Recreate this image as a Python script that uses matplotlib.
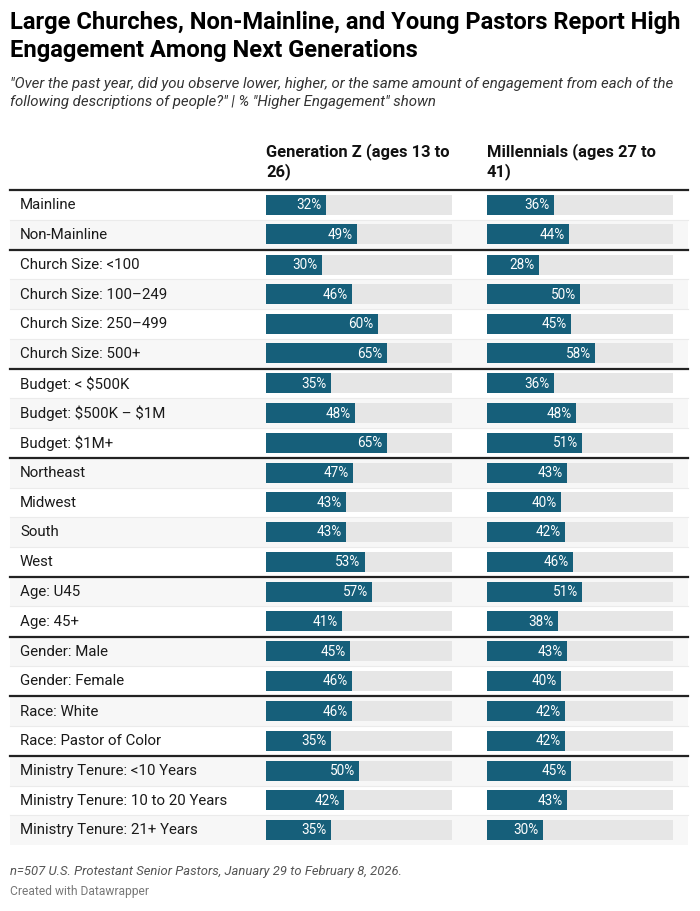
import matplotlib
matplotlib.use("Agg")
import matplotlib.pyplot as plt

# ---------------- data ----------------
categories = [
    "Mainline", "Non-Mainline",
    "Church Size: <100", "Church Size: 100–249", "Church Size: 250–499", "Church Size: 500+",
    "Budget: < $500K", "Budget: $500K – $1M", "Budget: $1M+",
    "Northeast", "Midwest", "South", "West",
    "Age: U45", "Age: 45+",
    "Gender: Male", "Gender: Female",
    "Race: White", "Race: Pastor of Color",
    "Ministry Tenure: <10 Years", "Ministry Tenure: 10 to 20 Years", "Ministry Tenure: 21+ Years",
]
group_sizes = [2, 4, 3, 4, 2, 2, 2, 3]
gen_z = [32, 49, 30, 46, 60, 65, 35, 48, 65, 47, 43, 43, 53, 57, 41, 45, 46, 46, 35, 50, 42, 35]
millennials = [36, 44, 28, 50, 45, 58, 36, 48, 51, 43, 40, 42, 46, 51, 38, 43, 40, 42, 42, 45, 43, 30]
column_headers = ["Generation Z (ages 13 to\n26)", "Millennials (ages 27 to\n41)"]

title = "Large Churches, Non-Mainline, and Young Pastors Report High\nEngagement Among Next Generations"
subtitle = ("\"Over the past year, did you observe lower, higher, or the same amount of engagement from each of the\n"
            "following descriptions of people?\" | % \"Higher Engagement\" shown")
note = "n=507 U.S. Protestant Senior Pastors, January 29 to February 8, 2026."
credit = "Created with Datawrapper"

# ---------------- style ----------------
W, H = 700, 911
plt.rcParams['font.family'] = ['Roboto', 'DejaVu Sans']
plt.rcParams['text.parse_math'] = False
BAR = "#165f7a"
TRACK = "#e6e6e6"
STRIPE = "#f7f7f7"
PX = 72 / 100  # px -> pt

fig = plt.figure(figsize=(W / 100, H / 100), dpi=100)
ax = fig.add_axes([0, 0, 1, 1])
ax.set_xlim(0, W)
ax.set_ylim(H, 0)
ax.axis("off")

# title / subtitle
ax.text(10, 23, title.split("\n")[0], fontsize=23.8 * PX, fontweight="bold", color="#000000",
        va="center", ha="left")
ax.text(10, 50, title.split("\n")[1], fontsize=23.8 * PX, fontweight="bold", color="#000000",
        va="center", ha="left")
for yy, line in zip([84, 102], subtitle.split("\n")):
    ax.text(10, yy, line, fontsize=15 * PX, fontstyle="italic", color="#333333",
            va="center", ha="left")

# column headers
col_x = [266, 487]
track_w = 186
for x, h in zip(col_x, column_headers):
    for yy, line in zip([152, 172], h.split("\n")):
        ax.text(x, yy, line, fontsize=16.5 * PX, fontweight="bold", color="#111111",
                va="center", ha="left")

# row layout
top = 190
row_h = 29.6
sep_gap = 0.5
centers = []
seps = [top]
y = top
for g in group_sizes:
    for i in range(g):
        centers.append(y + row_h / 2)
        y += row_h
    y += sep_gap
    seps.append(y)

left, right = 10, 688
for i, (c, lab) in enumerate(zip(centers, categories)):
    if i % 2 == 1:
        ax.add_patch(plt.Rectangle((left, c - row_h / 2), right - left, row_h,
                                   facecolor=STRIPE, edgecolor="none", zorder=0))
    ax.text(20, c + 0.5, lab, fontsize=15 * PX, color="#1a1a1a", va="center", ha="left")

# thin row separators
idx = 0
for g in group_sizes:
    for i in range(1, g):
        yy = centers[idx + i] - row_h / 2
        ax.plot([left, right], [yy, yy], color="#ebebeb", lw=0.8, zorder=1)
    idx += g

# thick group separators
for s in seps[:-1]:
    ax.plot([left, right], [s, s], color="#222222", lw=1.6, zorder=3)

# bars
for x0, vals in zip(col_x, [gen_z, millennials]):
    bax = fig.add_axes([x0 / W, 0, track_w / W, 1])
    bax.set_xlim(0, 100)
    bax.set_ylim(H, 0)
    bax.axis("off")
    bax.patch.set_alpha(0)
    bax.barh(centers, [100] * len(vals), height=20, color=TRACK, zorder=1)
    bax.barh(centers, vals, height=20, color=BAR, zorder=2)
    for c, v in zip(centers, vals):
        bax.text(v - 2.2, c + 0.5, f"{v}%", fontsize=13.5 * PX, color="white",
                 va="center", ha="right", zorder=3)

# footer
ax.text(10, 872, note, fontsize=13 * PX, fontstyle="italic", color="#555555",
        va="center", ha="left")
ax.text(10, 892, credit, fontsize=12 * PX, color="#777777", va="center", ha="left")

fig.savefig("out.png", dpi=100)
